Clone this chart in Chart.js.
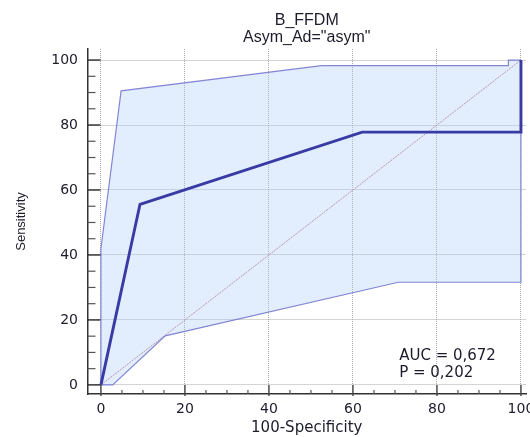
<!DOCTYPE html>
<html>
<head>
<meta charset="utf-8">
<title>B_FFDM ROC</title>
<script src="https://cdn.jsdelivr.net/npm/chart.js@4.4.1/dist/chart.umd.min.js"></script>
<style>
    html, body { margin: 0; padding: 0; background: #ffffff; }
    #rocChart { display: block; }
</style>
</head>
<body>
<canvas id="rocChart" width="530" height="437"></canvas>
<script>
// ROC curve and its confidence band
const rocX = [0, 9.3, 62.2, 100, 100];
const rocY = [0, 55.6, 77.8, 77.8, 100];

const upperX = [0, 0, 4.8, 52.5, 97, 97, 100];
const upperY = [0, 42, 90.5, 98.3, 98.3, 100, 100];

const lowerX = [0, 2.8, 15.3, 70.8, 100, 100];
const lowerY = [0, 0, 15.1, 31.6, 31.6, 100];

const diagonalX = [0, 100];
const diagonalY = [0, 100];

const tickValues = [0, 5, 10, 15, 20, 25, 30, 35, 40, 45, 50, 55, 60, 65, 70, 75, 80, 85, 90, 95, 100];
const labeledTicks = [0, 20, 40, 60, 80, 100];

const titleLines = ["B_FFDM", "Asym_Ad=\"asym\""];
const statLines = ["AUC = 0,672", "P = 0,202"];
const xAxisTitle = "100-Specificity";
const yAxisTitle = "Sensitivity";

const TEXT_COLOR = "#1c1c2c";
const TICK_FONT = "DejaVu Sans";

function toPoints(xs, ys) {
    return xs.map((x, i) => ({ x, y: ys[i] }));
}

// closed band polygon: upper bound forward, lower bound backward
const bandPoints = toPoints(upperX, upperY).concat(toPoints(lowerX, lowerY).reverse());

function isMajor(value) {
    return labeledTicks.includes(value);
}

const rocDecorPlugin = {
    id: "rocDecor",
    afterDraw(chart) {
        const { ctx, chartArea, scales } = chart;
        const xScale = scales.x;
        const yScale = scales.y;

        ctx.save();

        // axis tick marks point inward, towards the plot
        tickValues.forEach(value => {
            const major = isMajor(value);
            const py = yScale.getPixelForValue(value);
            ctx.beginPath();
            ctx.strokeStyle = major ? "#2a2a2a" : "#555555";
            ctx.lineWidth = major ? 1.4 : 1.2;
            ctx.moveTo(chartArea.left, py);
            ctx.lineTo(chartArea.left + (major ? 13 : 8), py);
            ctx.stroke();

            const px = xScale.getPixelForValue(value);
            ctx.beginPath();
            ctx.strokeStyle = major ? "#444444" : "#555555";
            ctx.moveTo(px, chartArea.bottom + (major ? 2 : 0));
            ctx.lineTo(px, chartArea.bottom - (major ? 9 : 4));
            ctx.stroke();
        });

        // two-line title centred over the plot
        const centerX = (chartArea.left + chartArea.right) / 2;
        ctx.fillStyle = TEXT_COLOR;
        ctx.textAlign = "center";
        ctx.textBaseline = "middle";
        ctx.font = "16px 'Liberation Sans'";
        ctx.fillText(titleLines[0], centerX, 21);
        ctx.fillText(titleLines[1], centerX, 38);

        // AUC / P annotation
        ctx.textAlign = "left";
        ctx.font = "15px 'DejaVu Sans'";
        ctx.fillText(statLines[0], xScale.getPixelForValue(71), yScale.getPixelForValue(8.9));
        ctx.fillText(statLines[1], xScale.getPixelForValue(71), yScale.getPixelForValue(3.7));

        ctx.restore();
    }
};

function axisTicks(scale) {
    scale.ticks = tickValues.map(value => ({ value }));
}

const gridStyle = {
    drawTicks: false,
    lineWidth: 1,
    color: context => (context.tick && isMajor(context.tick.value) ? "#a9a9a9" : "rgba(0,0,0,0)")
};

const borderStyle = { display: true, color: "#333333", width: 1.5, dash: [1, 1] };

new Chart(document.getElementById("rocChart"), {
    type: "scatter",
    data: {
        datasets: [
            {
                label: "ROC",
                data: toPoints(rocX, rocY),
                showLine: true,
                borderColor: "#3a3aa4",
                borderWidth: 2.9,
                pointRadius: 0,
                fill: false
            },
            {
                label: "Upper bound",
                data: toPoints(upperX, upperY),
                showLine: true,
                borderColor: "rgba(118,122,208,0.9)",
                borderWidth: 1.2,
                pointRadius: 0,
                fill: false
            },
            {
                label: "Lower bound",
                data: toPoints(lowerX, lowerY),
                showLine: true,
                borderColor: "rgba(118,122,208,0.9)",
                borderWidth: 1.2,
                pointRadius: 0,
                fill: false
            },
            {
                label: "Reference",
                data: toPoints(diagonalX, diagonalY),
                showLine: true,
                borderColor: "rgba(182,138,166,0.9)",
                borderWidth: 1,
                borderDash: [2, 1],
                pointRadius: 0,
                fill: false
            },
            {
                label: "Band",
                data: bandPoints,
                showLine: true,
                borderWidth: 0,
                borderColor: "rgba(0,0,0,0)",
                backgroundColor: "rgba(175,208,250,0.36)",
                pointRadius: 0,
                fill: "shape"
            }
        ]
    },
    options: {
        responsive: false,
        animation: false,
        events: [],
        layout: {
            padding: { top: 49, right: 4, bottom: 0, left: 0 }
        },
        plugins: {
            legend: { display: false },
            tooltip: { enabled: false },
            title: { display: false }
        },
        scales: {
            x: {
                type: "linear",
                min: -3.2,
                max: 101.2,
                afterBuildTicks: axisTicks,
                afterFit(scale) {
                    scale.height = 43;
                    scale.paddingLeft = 0;
                    scale.paddingRight = 0;
                },
                grid: gridStyle,
                border: borderStyle,
                ticks: {
                    autoSkip: false,
                    maxRotation: 0,
                    padding: 7,
                    color: TEXT_COLOR,
                    font: { family: TICK_FONT, size: 14 },
                    callback: value => (isMajor(value) ? String(value) : "")
                },
                title: {
                    display: true,
                    text: xAxisTitle,
                    color: TEXT_COLOR,
                    font: { family: TICK_FONT, size: 15 },
                    padding: { top: 0, bottom: 0 }
                }
            },
            y: {
                type: "linear",
                min: -2.8,
                max: 103.4,
                afterBuildTicks: axisTicks,
                afterFit(scale) {
                    scale.width = 87.5;
                    scale.paddingTop = 0;
                    scale.paddingBottom = 0;
                },
                grid: gridStyle,
                border: borderStyle,
                ticks: {
                    autoSkip: false,
                    padding: 9.5,
                    color: TEXT_COLOR,
                    font: { family: TICK_FONT, size: 14 },
                    callback: value => (isMajor(value) ? String(value) : "")
                },
                title: {
                    display: true,
                    text: yAxisTitle,
                    color: TEXT_COLOR,
                    font: { family: "Liberation Sans", size: 13 },
                    padding: { top: 14, bottom: 0 }
                }
            }
        }
    },
    plugins: [rocDecorPlugin]
});
</script>
</body>
</html>
